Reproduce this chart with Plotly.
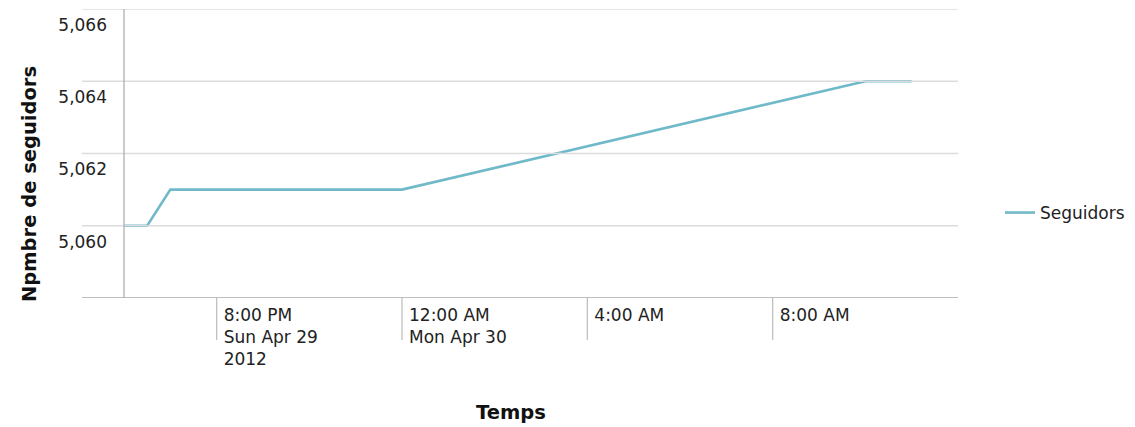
import plotly.graph_objects as go

times = ["2012-04-29 18:00", "2012-04-29 18:30", "2012-04-29 19:00",
         "2012-04-30 00:00", "2012-04-30 10:00", "2012-04-30 11:00"]
seguidors = [5060, 5060, 5061, 5061, 5064, 5064]

x_tickvals = ["2012-04-29 20:00", "2012-04-30 00:00", "2012-04-30 04:00", "2012-04-30 08:00"]
x_ticktext = ["8:00 PM<br>Sun Apr 29<br>2012", "12:00 AM<br>Mon Apr 30", "4:00 AM", "8:00 AM"]
y_tickvals = [5060, 5062, 5064, 5066]
y_ticktext = ["5,060", "5,062", "5,064", "5,066"]
y_min, y_max = 5058, 5066
x_min, x_max = "2012-04-29 18:00", "2012-04-30 12:00"

# page body has an 8px default margin: the figure is drawn 8px in from the top-left
OFF = 8
W, H = 1135 - OFF, 427 - OFF
L, R, T, B = 124 - OFF, 177, 9 - OFF, 129
pw, ph = W - L - R, H - T - B

FONT = "DejaVu Sans"
LINE = "#6fb9c9"

fig = go.Figure()
fig.add_trace(go.Scatter(x=times, y=seguidors, mode="lines", name="Seguidors",
                         line=dict(color=LINE, width=2.6)))

shapes = []
for v in [y_min] + y_tickvals:
    shapes.append(dict(type="line", xref="paper", yref="y", x0=-42 / pw, x1=1, y0=v, y1=v,
                       line=dict(color="#a8a8a8" if v == y_min else "#dcdcdc", width=1.3)))
shapes.append(dict(type="line", xref="paper", yref="paper", x0=0, x1=0, y0=0, y1=1,
                   line=dict(color="#b0b0b0", width=1.3)))
for tv in x_tickvals:
    shapes.append(dict(type="line", xref="x", yref="paper", x0=tv, x1=tv, y0=0, y1=-42 / ph,
                       line=dict(color="#c0c0c0", width=1.3)))

fig.update_layout(
    width=W, height=H,
    margin=dict(l=L, r=R, t=T, b=B, autoexpand=False),
    paper_bgcolor="white", plot_bgcolor="white",
    font=dict(family=FONT, size=17, color="#222"),
    showlegend=True,
    legend=dict(x=1 + 42 / pw, y=1 - (213 - 9) / ph, xanchor="left", yanchor="middle",
                font=dict(size=17, color="#222"), bgcolor="rgba(0,0,0,0)",
                itemwidth=30),
    xaxis=dict(type="date", range=[x_min, x_max], tickvals=x_tickvals, ticktext=x_ticktext,
               showgrid=False, zeroline=False, showline=False, ticks="", automargin=False,
               ticklabelposition="outside right", ticklabelshift=7, ticklabelstandoff=5,
               tickfont=dict(size=17, color="#222")),
    yaxis=dict(range=[y_min, y_max], tickvals=y_tickvals, ticktext=y_ticktext,
               showgrid=False, zeroline=False, showline=False, ticks="", automargin=False,
               ticklabelshift=16, ticklabelstandoff=16,
               tickfont=dict(size=17, color="#222")),
    shapes=shapes,
    annotations=[
        dict(text="<b>Temps</b>", xref="paper", yref="paper", x=(511 - 124) / pw,
             y=1 - (412 - 9) / ph, showarrow=False, font=dict(size=19.5, color="#111"),
             xanchor="center", yanchor="middle"),
        dict(text="<b>Npmbre de seguidors</b>", xref="paper", yref="paper", x=(29 - 124) / pw,
             y=1 - (184 - 9) / ph, showarrow=False, textangle=-90,
             font=dict(size=19.5, color="#111"), xanchor="center", yanchor="middle"),
    ],
)

fig.write_html("out.html")
